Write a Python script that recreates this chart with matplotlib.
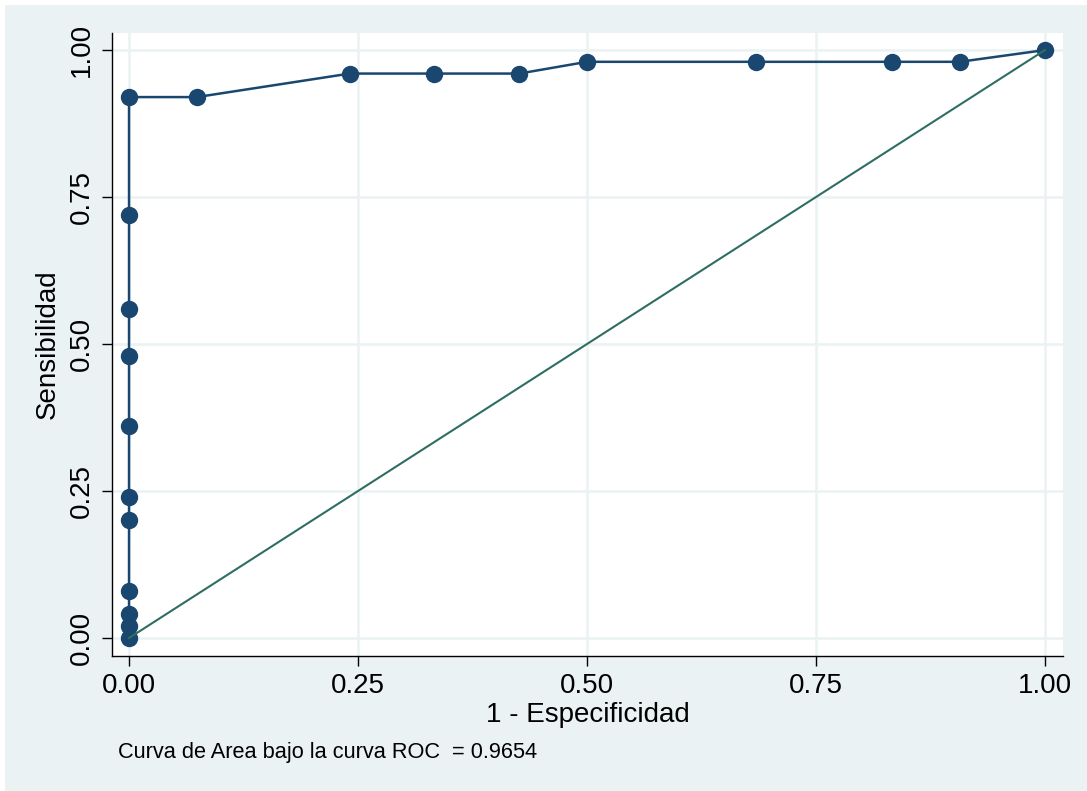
import matplotlib
matplotlib.use("Agg")
import matplotlib.pyplot as plt
from matplotlib.patches import Rectangle

# ROC points (1 - especificidad, sensibilidad)
fpr = [0, 0, 0, 0, 0, 0, 0, 0, 0, 0, 0,
       0.074, 0.241, 0.333, 0.426, 0.5, 0.685, 0.833, 0.907, 1.0]
tpr = [0, 0.02, 0.04, 0.08, 0.20, 0.24, 0.36, 0.48, 0.56, 0.72, 0.92,
       0.92, 0.96, 0.96, 0.96, 0.98, 0.98, 0.98, 0.98, 1.0]
ref_line = [0, 1]
ticks = [0, 0.25, 0.5, 0.75, 1.0]
tick_labels = ["0.00", "0.25", "0.50", "0.75", "1.00"]
auc_text = "Curva de Area bajo la curva ROC  = 0.9654"

bg = "#EAF2F3"
navy = "#1a476f"
green = "#2e6e62"

plt.rcParams['font.family'] = ['Liberation Sans', 'DejaVu Sans']

fig = plt.figure(figsize=(10.87, 7.91), dpi=100)
fig.patch.set_facecolor("white")
fig.patches.append(Rectangle((5 / 1087, 0), 1 - 5 / 1087, 1 - 5 / 791,
                             transform=fig.transFigure, facecolor=bg,
                             edgecolor="none", zorder=-10))

ax = fig.add_axes([112 / 1087, 1 - 656 / 791, 951 / 1087, 623 / 791])
ax.set_facecolor("white")

ax.plot(fpr, tpr, color=navy, lw=1.8, marker="o", ms=11.5, zorder=3)
ax.plot(ref_line, ref_line, color=green, lw=1.5, zorder=4)

ax.set_xlim(-0.0186, 1.0197)
ax.set_ylim(-0.0306, 1.029)
ax.set_xticks(ticks)
ax.set_xticklabels(tick_labels)
ax.set_yticks(ticks)
ax.set_yticklabels(tick_labels, rotation=90, va="center")
ax.tick_params(axis="both", labelsize=20, length=7.5, width=1, pad=5,
               color="black", labelcolor="black")

ax.grid(True, color=bg, lw=1.8, zorder=0)
ax.set_axisbelow(True)
for s in ["top", "right"]:
    ax.spines[s].set_visible(False)
for s in ["left", "bottom"]:
    ax.spines[s].set_linewidth(1)
    ax.spines[s].set_color("black")

ax.set_xlabel("1 - Especificidad", fontsize=20, labelpad=2)
ax.set_ylabel("Sensibilidad", fontsize=20, labelpad=6)

fig.text(118 / 1087, 1 - 758 / 791, auc_text, fontsize=15.7,
         ha="left", va="baseline")

fig.savefig("out.png", dpi=100, facecolor=fig.get_facecolor())
